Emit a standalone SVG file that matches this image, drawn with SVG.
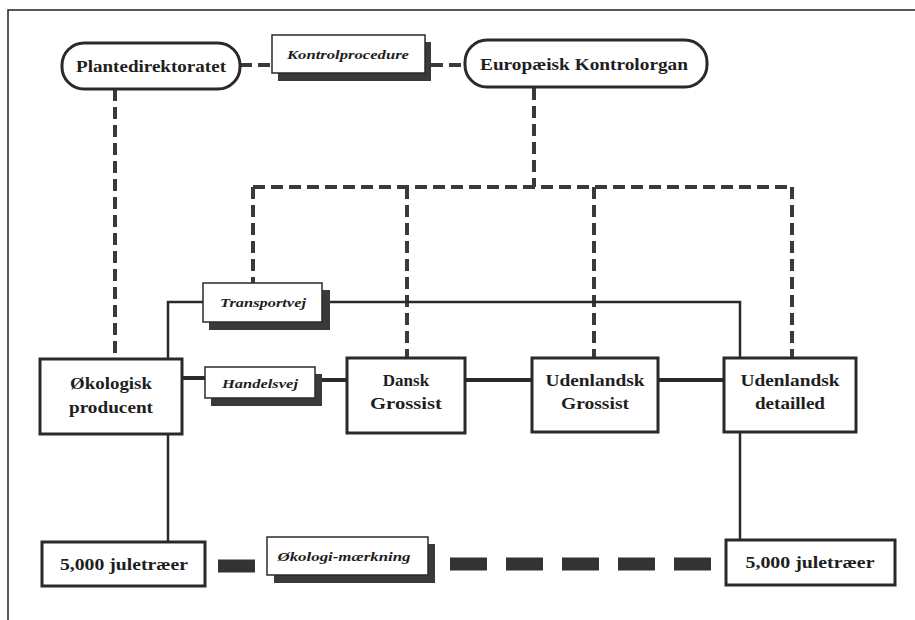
<svg xmlns="http://www.w3.org/2000/svg" width="915" height="620" viewBox="0 0 915 620">
<style>
.frame{fill:none;stroke:#222;stroke-width:1.5}
.node rect{fill:#fff;stroke:#2a2a2a;stroke-width:3}
.shadow{fill:#3a3a3a;stroke:none}
.lbl rect.box{fill:#fff;stroke:#2a2a2a;stroke-width:1.5}
.t{font-family:"Liberation Serif","Times New Roman",serif;font-weight:bold;font-size:17px;fill:#1e1e1e;text-anchor:middle}
.i{font-family:"Liberation Serif","Times New Roman",serif;font-weight:bold;font-style:italic;font-size:13px;fill:#1e1e1e;text-anchor:middle}
.dash{fill:none;stroke:#3a3a3a;stroke-width:4;stroke-dasharray:12 6}
.solid{fill:none;stroke:#2a2a2a;stroke-width:2.5}
.thick{fill:none;stroke:#2a2a2a;stroke-width:4}
.bigdash{fill:none;stroke:#333;stroke-width:13}
</style>
<rect width="915" height="620" fill="#fff"/>
<path class="frame" d="M8,625 V10 H920"/>
<g id="connectors">
<path class="dash" d="M240,65 H272"/>
<path class="dash" d="M431,65 H465"/>
<path class="dash" d="M115,89 V359"/>
<path class="dash" d="M534,88 V187"/>
<path class="dash" d="M253,187 H792"/>
<path class="dash" d="M253,187 V283"/>
<path class="dash" d="M407,187 V358"/>
<path class="dash" d="M594,187 V358"/>
<path class="dash" d="M792,187 V358"/>
<path class="solid" d="M168,359 V302 H203"/>
<path class="solid" d="M330,302 H740 V358"/>
<path class="thick" d="M182,378 H205"/>
<path class="thick" d="M322,380 H347"/>
<path class="thick" d="M465,380 H532"/>
<path class="thick" d="M658,380 H724"/>
<path class="solid" d="M168,434 V542"/>
<path class="solid" d="M740,432 V540"/>
<path class="bigdash" d="M218,566 H255"/>
<path class="bigdash" d="M450,564 H712" stroke-dasharray="37 19"/>
</g>
<g id="plantedirektoratet" class="node">
<rect x="62" y="43" width="178" height="46" rx="22"/>
<text class="t" x="151" y="72" textLength="150" lengthAdjust="spacingAndGlyphs">Plantedirektoratet</text>
</g>
<g id="kontrolprocedure" class="lbl">
<rect class="shadow" x="278" y="42" width="153" height="39"/>
<rect class="box" x="272" y="35" width="153" height="38"/>
<text class="i" x="348" y="59" textLength="122" lengthAdjust="spacingAndGlyphs">Kontrolprocedure</text>
</g>
<g id="europaeisk" class="node">
<rect x="465" y="40" width="242" height="47" rx="22"/>
<text class="t" x="584" y="70" textLength="208" lengthAdjust="spacingAndGlyphs">Europæisk Kontrolorgan</text>
</g>
<g id="transportvej" class="lbl">
<rect class="shadow" x="209" y="290" width="121" height="40"/>
<rect class="box" x="203" y="283" width="119" height="39"/>
<text class="i" x="263" y="307" textLength="86" lengthAdjust="spacingAndGlyphs">Transportvej</text>
</g>
<g id="handelsvej" class="lbl">
<rect class="shadow" x="211" y="374" width="111" height="32"/>
<rect class="box" x="205" y="367" width="110" height="31"/>
<text class="i" x="260" y="388" textLength="76" lengthAdjust="spacingAndGlyphs">Handelsvej</text>
</g>
<g id="oekologisk-producent" class="node">
<rect x="40" y="359" width="142" height="75"/>
<text class="t" x="111" y="389" textLength="82" lengthAdjust="spacingAndGlyphs">Økologisk</text>
<text class="t" x="111" y="413" textLength="84" lengthAdjust="spacingAndGlyphs">producent</text>
</g>
<g id="dansk-grossist" class="node">
<rect x="347" y="358" width="118" height="75"/>
<text class="t" x="406" y="386">Dansk</text>
<text class="t" x="406" y="409" textLength="72" lengthAdjust="spacingAndGlyphs">Grossist</text>
</g>
<g id="udenlandsk-grossist" class="node">
<rect x="532" y="358" width="126" height="74"/>
<text class="t" x="595" y="386" textLength="99" lengthAdjust="spacingAndGlyphs">Udenlandsk</text>
<text class="t" x="595" y="409" textLength="68" lengthAdjust="spacingAndGlyphs">Grossist</text>
</g>
<g id="udenlandsk-detailled" class="node">
<rect x="724" y="358" width="132" height="74"/>
<text class="t" x="790" y="386" textLength="99" lengthAdjust="spacingAndGlyphs">Udenlandsk</text>
<text class="t" x="790" y="409" textLength="70" lengthAdjust="spacingAndGlyphs">detailled</text>
</g>
<g id="juletraeer-left" class="node">
<rect x="42" y="542" width="163" height="44"/>
<text class="t" x="124" y="570" textLength="128" lengthAdjust="spacingAndGlyphs">5,000 juletræer</text>
</g>
<g id="oekologi-maerkning" class="lbl">
<rect class="shadow" x="274" y="544" width="161" height="39"/>
<rect class="box" x="267" y="537" width="161" height="38"/>
<text class="i" x="344" y="561" textLength="133" lengthAdjust="spacingAndGlyphs">Økologi-mærkning</text>
</g>
<g id="juletraeer-right" class="node">
<rect x="726" y="540" width="169" height="45"/>
<text class="t" x="810" y="568" textLength="129" lengthAdjust="spacingAndGlyphs">5,000 juletræer</text>
</g>
</svg>
